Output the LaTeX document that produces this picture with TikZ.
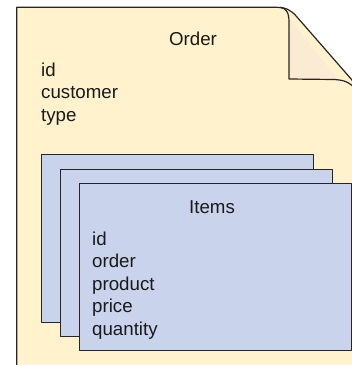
\documentclass[tikz,border=0pt]{standalone}
\usepackage{fontspec}
\setmainfont{Liberation Sans}
\definecolor{pagefill}{HTML}{FFF2CC}
\definecolor{foldfill}{HTML}{FCEBD3}
\definecolor{itemfill}{HTML}{C9D4EC}
\definecolor{txt}{HTML}{1A1A1A}
\begin{document}
\begin{tikzpicture}[x=1pt,y=-1pt,
  outline/.style={draw=black!85,line width=1.2pt,line join=round},
  itembox/.style={outline,fill=itemfill,anchor=north west,inner sep=0pt},
  lbl/.style={font=\fontsize{18.7}{22}\selectfont,text=txt,inner sep=0pt,anchor=base west},
  title/.style={font=\fontsize{18.7}{22}\selectfont,text=txt,inner sep=0pt,anchor=base}]
\useasboundingbox (0,0) rectangle (352,365);
\clip (0,0) rectangle (352,365);
% page
\path[outline,fill=pagefill] (16.7,7.3) -- (276,7.3)
  .. controls (286,7.3) and (291,10) .. (297,17) -- (352,80)
  -- (360,95) -- (360,375) -- (16.7,375) -- cycle;
% fold
\path[fill=foldfill] (289,18) -- (289,79) -- (338,79.5) -- cycle;
\draw[outline] (280,7.3) .. controls (286,8) and (289,12) .. (289,22)
  -- (289,79) -- (334,79.5) .. controls (344,80) and (350,82) .. (356,90);
\coordinate (pagetl) at (16.7,7.3);
% order text
\node[title] (ordertitle) at (193,45) {Order};
\node[lbl] (oid) at (41,76) {id};
\node[lbl] (ocust) at (41,98.5) {customer};
\node[lbl] (otype) at (41,121) {type};
% item boxes
\node[itembox,minimum width=272pt,minimum height=168pt] (box1) at (41,154) {};
\node[itembox,minimum width=272pt,minimum height=167pt] (box2) at (60,169) {};
\node[itembox,minimum width=272pt,minimum height=167pt] (box3) at (79,183) {};
\node[title] (itemstitle) at (212,213) {Items};
\node[lbl] (iid) at (92,245) {id};
\node[lbl] (iorder) at (92,267.5) {order};
\node[lbl] (iproduct) at (92,290) {product};
\node[lbl] (iprice) at (92,312.5) {price};
\node[lbl] (iqty) at (92,335) {quantity};
\end{tikzpicture}
\end{document}
